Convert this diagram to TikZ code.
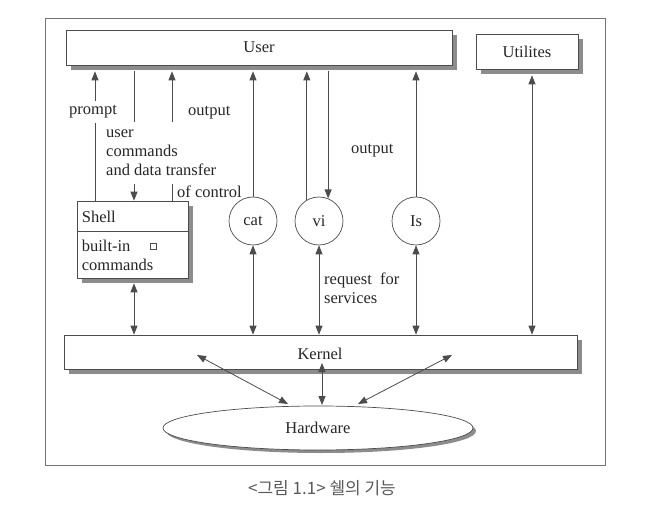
\documentclass[tikz,border=0pt]{standalone}
\usepackage{fontspec}
\setmainfont{Liberation Serif}
\newfontfamily\kfont{Noto Sans CJK KR}
\usetikzlibrary{arrows.meta,shapes.geometric,shadows}
\begin{document}
\begin{tikzpicture}[x=1pt,y=-1pt,
  font=\fontsize{16.5}{19}\selectfont, text=black!85,
  ln/.style={draw=black!70, line width=0.8pt},
  arr/.style={ln, -{Triangle[length=9pt,width=7pt]}},
  darr/.style={ln, {Triangle[length=9pt,width=7pt]}-{Triangle[length=9pt,width=7pt]}},
  box/.style={draw=black!70, fill=white, line width=0.7pt, inner sep=0pt,
    drop shadow={shadow xshift=5pt, shadow yshift=-5pt, fill=black!45, opacity=1}},
  circ/.style={circle, draw=black!70, fill=white, line width=0.7pt, minimum size=48pt, inner sep=0pt},
  lbl/.style={inner xsep=2pt, inner ysep=0pt, fill=white, align=left}
]
\useasboundingbox (0,0) rectangle (650,510);
\draw[black!55, line width=0.7pt] (45,18) rectangle (605,465);

% boxes
\node[box, minimum width=386pt, minimum height=35pt] (user) at (259,47.5) {User};
\node[box, minimum width=102pt, minimum height=35pt] (util) at (527,51.5) {Utilites};
\node[box, minimum width=513pt, minimum height=34pt] (kernel) at (320.5,352) {};
\node (kernellbl) at (320,354) {Kernel};
\node[box, minimum width=111pt, minimum height=77pt] (shell) at (132.5,239.5) {};
\draw[ln, line width=0.7pt] ([yshift=-31pt]shell.north west) -- ([yshift=-31pt]shell.north east);
\node[anchor=west, inner sep=0pt] (shelllbl) at ([xshift=5pt,yshift=-16.5pt]shell.north west) {Shell};
\node[anchor=north west, align=left, inner sep=0pt] (builtin) at ([xshift=5pt,yshift=-39pt]shell.north west) {built-in\\commands};
\node[draw=black!70, line width=0.5pt, minimum size=6pt, inner sep=0pt] (sq) at (153,246) {};

\node[circ] (cat) at (253,221) {cat};
\node[circ] (vi) at (319,221) {vi};
\node[circ] (ls) at (416,221) {Is};

\node[ellipse, draw=black!70, fill=white, line width=0.7pt, minimum width=310pt, minimum height=44pt,
  drop shadow={shadow xshift=3pt, shadow yshift=-3pt, fill=black!45, opacity=1}] (hw) at (318,428) {};
\node (hwlbl) at (318,428) {Hardware};

% helper coordinates
\coordinate (ub) at ([yshift=-6pt]user.south);
\coordinate (utb) at ([xshift=5pt,yshift=-6pt]util.south);
\coordinate (sb) at ([yshift=-5pt]shell.south);
\coordinate (xp) at (95,0);
\coordinate (xu) at (134,0);
\coordinate (xo) at (172,0);

% shell connectors
\draw[arr] (shell.north -| xp) -- (ub -| xp);
\draw[arr] (ub -| xu) -- (shell.north -| xu);
\draw[arr] (shell.north -| xo) -- (ub -| xo);
\node[lbl, minimum height=22pt] (prompt) at (93,112) {prompt};
\node[anchor=west, inner sep=0pt] (out1) at (188,113) {output};
\node[lbl, anchor=west, minimum height=62pt] (ucmd) at (104,153) {user\\commands\\and data transfer};
\node[anchor=west, inner sep=0pt] (ctrl) at (177,192) {of control};
\draw[darr] (sb -| xu) -- (kernel.north -| xu);

% utilities
\draw[arr] (cat.north) -- (ub -| cat.north);
\draw[darr] (cat.south) -- (kernel.north -| cat.south);
\draw[arr] (vi.120) -- (ub -| vi.120);
\draw[arr] (ub -| vi.68) -- (vi.68);
\draw[darr] (vi.south) -- (kernel.north -| vi.south);
\draw[arr] (ls.north) -- (ub -| ls.north);
\draw[darr] (ls.south) -- (kernel.north -| ls.south);
\draw[darr] (utb) -- (kernel.north -| utb);
\node[anchor=west, inner sep=0pt] (out2) at (351,151) {output};
\node[anchor=north west, align=left, inner sep=0pt] (req) at (324,273) {request\ \ for\\services};

% kernel - hardware
\coordinate (k1) at (197,355);
\coordinate (k2) at (322,363);
\coordinate (k3) at (452,355);
\coordinate (h1) at (288,404);
\coordinate (h2) at (322,405);
\coordinate (h3) at (358,404);
\draw[darr] (k1) -- (h1);
\draw[darr] (k2) -- (h2);
\draw[darr] (k3) -- (h3);

% caption
\node[font=\kfont\fontsize{17}{20}\selectfont, text=black!65] (cap) at (322,488) {<그림 1.1> 쉘의 기능};
\end{tikzpicture}
\end{document}
